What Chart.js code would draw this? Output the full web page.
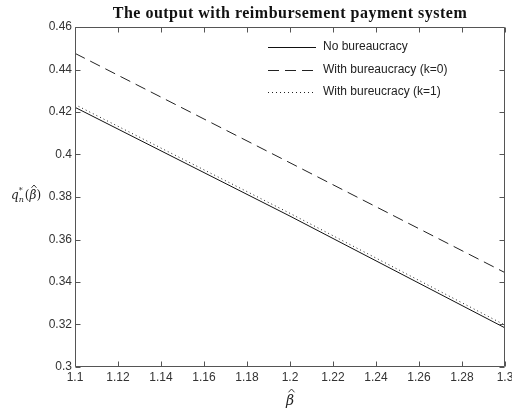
<!DOCTYPE html>
<html>
<head>
<meta charset="utf-8">
<script src="https://cdn.jsdelivr.net/npm/chart.js@4/dist/chart.umd.min.js"></script>
<style>
  html, body { margin: 0; padding: 0; background: #fff; }
  #wrap { width: 512px; height: 413px; }
</style>
</head>
<body>
<div id="wrap"><canvas id="c" width="512" height="413"></canvas></div>
<script>
// beta-hat sample points and the optimal output q_n*(beta-hat) for each case
const betaHat = [1.1, 1.2, 1.3];
const noBureaucracy = [0.4222, 0.3710, 0.3184];
const withBureaucracyK0 = [0.4476, 0.3961, 0.3444];
const withBureaucracyK1 = [0.4235, 0.3723, 0.3197];

const seriesNames = ['No bureaucracy', 'With bureaucracy (k=0)', 'With bureucracy (k=1)'];

const xTicks = [1.1, 1.12, 1.14, 1.16, 1.18, 1.2, 1.22, 1.24, 1.26, 1.28, 1.3];
const yTicks = [0.3, 0.32, 0.34, 0.36, 0.38, 0.4, 0.42, 0.44, 0.46];

const titleText = 'The output with reimbursement payment system';

const toPoints = ys => betaHat.map((b, i) => ({ x: b, y: ys[i] }));
const fmt = v => String(+v.toFixed(2));

const AXIS_COLOR = '#555';
const TEXT_COLOR = '#333';

// draws a small circumflex accent centred at (cx, top)
function hat(ctx, cx, top, w) {
  ctx.save();
  ctx.lineWidth = 0.9;
  ctx.beginPath();
  ctx.moveTo(cx - w / 2, top + w * 0.55);
  ctx.lineTo(cx, top);
  ctx.lineTo(cx + w / 2, top + w * 0.55);
  ctx.stroke();
  ctx.restore();
}

// Box around the axes with MATLAB-style inward tick marks, title, legend and axis labels
const decorations = {
  id: 'decorations',
  afterDatasetsDraw(chart) {
    const { ctx, chartArea: a, scales: { x, y } } = chart;
    const L = Math.round(a.left) + 0.5, R = Math.round(a.right) - 0.5;
    const T = Math.round(a.top) + 0.5, B = Math.round(a.bottom) - 0.5;
    ctx.save();
    ctx.strokeStyle = AXIS_COLOR;
    ctx.lineWidth = 1;
    ctx.beginPath();
    ctx.rect(L, T, R - L, B - T);
    const tl = 5;
    xTicks.forEach(v => {
      const px = Math.round(x.getPixelForValue(v)) + 0.5;
      ctx.moveTo(px, B); ctx.lineTo(px, B - tl);
      ctx.moveTo(px, T); ctx.lineTo(px, T + tl);
    });
    yTicks.forEach(v => {
      const py = Math.round(y.getPixelForValue(v)) + 0.5;
      ctx.moveTo(L, py); ctx.lineTo(L + tl, py);
      ctx.moveTo(R, py); ctx.lineTo(R - tl, py);
    });
    ctx.stroke();

    // legend (inside the axes, top right, no frame)
    const lx0 = 268, lx1 = 316, tx = 323;
    const rows = [47, 70, 92];
    chart.data.datasets.forEach((ds, i) => {
      const yy = rows[i] + 0.5;
      ctx.strokeStyle = ds.borderColor;
      ctx.lineWidth = ds.borderWidth;
      ctx.setLineDash(ds.borderDash || []);
      ctx.beginPath();
      ctx.moveTo(lx0, yy); ctx.lineTo(lx1, yy);
      ctx.stroke();
      ctx.setLineDash([]);
      ctx.fillStyle = '#222';
      ctx.font = '12px "Liberation Sans", Arial, sans-serif';
      ctx.textAlign = 'left';
      ctx.textBaseline = 'middle';
      ctx.fillText(ds.label, tx, rows[i]);
    });

    // title
    ctx.fillStyle = '#111';
    ctx.font = 'bold 16px "Liberation Serif", "Times New Roman", serif';
    ctx.letterSpacing = '0.5px';
    ctx.textAlign = 'center';
    ctx.textBaseline = 'middle';
    ctx.fillText(titleText, (a.left + a.right) / 2, 14);
    ctx.letterSpacing = '0px';

    // x axis label: beta-hat
    ctx.fillStyle = '#222';
    ctx.strokeStyle = '#222';
    ctx.font = 'italic 14px "DejaVu Serif", serif';
    ctx.textAlign = 'center';
    ctx.textBaseline = 'alphabetic';
    const xc = (a.left + a.right) / 2;
    ctx.fillText('\u03B2', xc, 405);
    hat(ctx, xc + 1.5, 389, 6);

    // y axis label: q_n^*(beta-hat), horizontal at the left
    const cy = (a.top + a.bottom) / 2;
    ctx.textAlign = 'left';
    let cx = 11;
    const base = cy + 2;
    ctx.font = 'italic 12px "DejaVu Serif", serif';
    ctx.fillText('q', cx, base);
    cx += ctx.measureText('q').width;
    ctx.font = 'italic 8px "DejaVu Serif", serif';
    ctx.fillText('*', cx, base - 6);
    ctx.fillText('n', cx, base + 3);
    cx += ctx.measureText('n').width + 1;
    ctx.font = '12px "DejaVu Serif", serif';
    ctx.fillText('(', cx, base);
    cx += ctx.measureText('(').width;
    ctx.font = 'italic 12px "DejaVu Serif", serif';
    ctx.fillText('\u03B2', cx, base);
    const bw = ctx.measureText('\u03B2').width;
    hat(ctx, cx + bw / 2 + 1, base - 14, 5);
    cx += bw;
    ctx.font = '12px "DejaVu Serif", serif';
    ctx.fillText(')', cx, base);
    ctx.restore();
  }
};

new Chart(document.getElementById('c'), {
  type: 'line',
  data: {
    datasets: [
      { label: seriesNames[0], data: toPoints(noBureaucracy), borderColor: '#111', borderWidth: 1, borderDash: [] },
      { label: seriesNames[1], data: toPoints(withBureaucracyK0), borderColor: '#222', borderWidth: 1, borderDash: [11, 6] },
      { label: seriesNames[2], data: toPoints(withBureaucracyK1), borderColor: '#222', borderWidth: 1, borderDash: [1, 3] }
    ]
  },
  options: {
    responsive: false,
    animation: false,
    events: [],
    layout: { padding: { top: 27, right: 7, left: 0, bottom: 0 } },
    elements: { point: { radius: 0 }, line: { tension: 0 } },
    plugins: { legend: { display: false }, title: { display: false }, tooltip: { enabled: false } },
    scales: {
      x: {
        type: 'linear',
        min: 1.1, max: 1.3,
        afterBuildTicks: s => { s.ticks = xTicks.map(v => ({ value: v })); },
        afterFit: s => { s.height = 46; s.paddingLeft = 0; s.paddingRight = 0; },
        grid: { display: false, drawTicks: false, tickLength: 0 },
        border: { display: false },
        ticks: {
          autoSkip: false, maxRotation: 0, padding: 3,
          color: TEXT_COLOR,
          font: { family: '"Liberation Sans", Arial, sans-serif', size: 12 },
          callback: v => fmt(v)
        }
      },
      y: {
        type: 'linear',
        min: 0.3, max: 0.46,
        afterBuildTicks: s => { s.ticks = yTicks.map(v => ({ value: v })); },
        afterFit: s => { s.width = 75; },
        grid: { display: false, drawTicks: false, tickLength: 0 },
        border: { display: false },
        ticks: {
          padding: 3,
          color: TEXT_COLOR,
          font: { family: '"Liberation Sans", Arial, sans-serif', size: 12 },
          callback: v => fmt(v)
        }
      }
    }
  },
  plugins: [decorations]
});
</script>
</body>
</html>
